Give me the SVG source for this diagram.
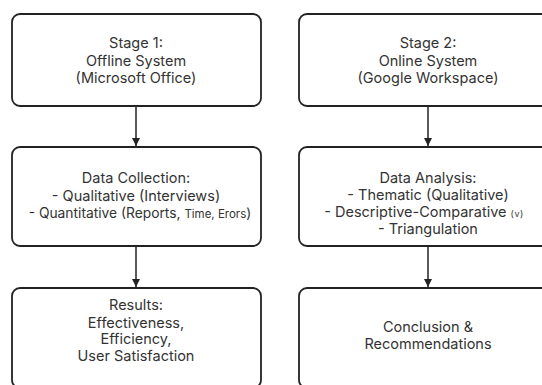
<svg xmlns="http://www.w3.org/2000/svg" width="542" height="385" viewBox="0 0 542 385">
<defs>
<style>
.box{fill:#fff;stroke:#222;stroke-width:1.8}
.t{font-family:Inter,"Liberation Sans",sans-serif;font-size:14.5px;fill:#333;text-anchor:middle}
.q{font-size:13.8px}
.s{font-size:11.5px}
.xs{font-size:9px;letter-spacing:0.5px}
.c{stroke:#222;stroke-width:1.5;fill:none}
</style>
<marker id="ah" markerWidth="10" markerHeight="10" refX="8" refY="4" orient="auto" markerUnits="userSpaceOnUse">
<path d="M0,0 L8,4 L0,8 Z" fill="#222"/>
</marker>
</defs>
<rect width="542" height="385" fill="#fff"/>
<g id="connectors">
<line class="c" x1="136" y1="106" x2="136" y2="146" marker-end="url(#ah)"/>
<line class="c" x1="136" y1="246" x2="136" y2="287" marker-end="url(#ah)"/>
<line class="c" x1="428" y1="106" x2="428" y2="146" marker-end="url(#ah)"/>
<line class="c" x1="428" y1="246" x2="428" y2="287" marker-end="url(#ah)"/>
</g>
<g id="stage1">
<rect class="box" x="12" y="14" width="249" height="92" rx="8"/>
<text class="t" x="136" y="48">Stage 1:</text>
<text class="t" x="136" y="65.5">Offline System</text>
<text class="t" x="136" y="83">(Microsoft Office)</text>
</g>
<g id="stage2">
<rect class="box" x="299" y="14" width="258" height="92" rx="8"/>
<text class="t" x="428" y="48">Stage 2:</text>
<text class="t" x="428" y="65.5">Online System</text>
<text class="t" x="428" y="83">(Google Workspace)</text>
</g>
<g id="collection">
<rect class="box" x="12" y="147" width="249" height="99" rx="8"/>
<text class="t" x="136" y="183">Data Collection:</text>
<text class="t" x="136" y="200.5">- Qualitative (Interviews)</text>
<text class="t q" x="140" y="218">- Quantitative (Reports, <tspan class="s">Time, Erors</tspan>)</text>
</g>
<g id="analysis">
<rect class="box" x="299" y="147" width="258" height="99" rx="8"/>
<text class="t" x="428" y="183">Data Analysis:</text>
<text class="t" x="428" y="200">- Thematic (Qualitative)</text>
<text class="t" x="424" y="217">- Descriptive-Comparative <tspan class="xs">(v)</tspan></text>
<text class="t" x="428" y="234">- Triangulation</text>
</g>
<g id="results">
<rect class="box" x="12" y="288" width="249" height="100" rx="8"/>
<text class="t" x="136" y="310">Results:</text>
<text class="t" x="136" y="327.5">Effectiveness,</text>
<text class="t" x="136" y="344">Efficiency,</text>
<text class="t" x="136" y="361">User Satisfaction</text>
</g>
<g id="conclusion">
<rect class="box" x="299" y="288" width="258" height="100" rx="8"/>
<text class="t" x="428" y="332">Conclusion &amp;</text>
<text class="t" x="428" y="349">Recommendations</text>
</g>
</svg>
